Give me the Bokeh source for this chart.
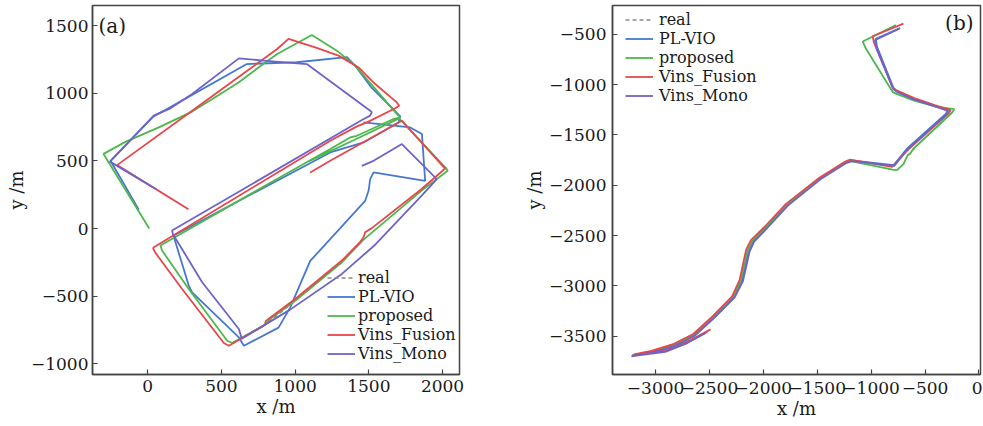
from bokeh.plotting import figure
from bokeh.models import FixedTicker, Legend, LegendItem, Label, Range1d
from bokeh.layouts import row
from bokeh.embed import file_html
from bokeh.resources import INLINE

# ---------------- data ----------------
series_names = ["real", "PL-VIO", "proposed", "Vins_Fusion", "Vins_Mono"]
series_colors = ["#8c8c8c", "#4678d2", "#4cb84c", "#e8464b", "#6e64c8"]

# panel (a)
a_real_x = [573, 796, 1000, 1317]
a_real_y = [-847, -712, -535, -250]
a_plvio_x = [-61, -253, 39, 118, 672, 1011, 1351, 1407, 1520, 1690, 1713, 1701, 1464, 1238, 176, 182, 278, 301,
             618, 652, 887, 966, 1102, 1475, 1498, 1509, 1532, 1882, 1860, 1781, 1464]
a_plvio_y = [140, 501, 830, 876, 1217, 1230, 1268, 1205, 1040, 855, 830, 785, 637, 563, -52, -80, -422, -472,
             -805, -867, -733, -585, -240, 205, 279, 365, 415, 353, 699, 748, 785]
a_prop_x = [10, -300, -152, 75, 301, 482, 618, 753, 878, 1113, 1283, 1407, 1554, 1690, 1713, 1667, 1419, 1373,
            1238, 753, 86, 97, 278, 539, 573, 796, 830, 1000, 1317, 1464, 1860, 2035, 2025, 1705, 1400, 1091]
a_prop_y = [0, 552, 641, 748, 865, 988, 1082, 1193, 1291, 1432, 1316, 1205, 1020, 847, 822, 810, 686, 674,
            588, 290, -126, -163, -447, -830, -847, -712, -670, -535, -250, -82, 282, 427, 445, 815, 655, 497]
a_fus_x = [276, -208, 301, 878, 955, 1136, 1294, 1430, 1543, 1690, 1706, 1679, 1487, 1419, 1238, 41, 36, 52,
           233, 516, 550, 780, 796, 800, 830, 1000, 1317, 1440, 1464, 1475, 1520, 1860, 2018, 2005, 1724, 1238, 1102]
a_fus_y = [143, 469, 872, 1328, 1403, 1340, 1279, 1192, 1069, 933, 909, 890, 785, 756, 649, -138, -146, -180,
           -447, -847, -867, -722, -709, -685, -660, -521, -237, -100, -64, -27, 3, 294, 444, 458, 798, 501, 415]
a_mono_x = [57, -256, 40, 154, 301, 618, 785, 1079, 1509, 1520, 1509, 1453, 165, 170, 369, 618, 638, 966,
            1317, 1543, 1860, 1961, 1724, 1532, 1452]
a_mono_y = [291, 495, 835, 889, 995, 1259, 1242, 1217, 872, 859, 835, 803, -15, -40, -397, -743, -815, -600,
            -336, -120, 245, 365, 625, 501, 464]

a_xticks = [0, 500, 1000, 1500, 2000]
a_xtick_labels = ["0", "500", "1000", "1500", "2000"]
a_yticks = [-1000, -500, 0, 500, 1000, 1500]
a_ytick_labels = ["\u22121000", "\u2212500", "0", "500", "1000", "1500"]

# panel (b)
b_real_x = [-655, -600]
b_real_y = [-1700, -1640]
b_plvio_x = [-730, -957, -945, -790, -762, -593, -410, -290, -305, -668, -790, -1185, -1235, -1473, -1777, -1974,
             -2090, -2135, -2198, -2275, -2460, -2642, -2824, -3036, -3219, -3150, -2900, -2700, -2520]
b_plvio_y = [-440, -545, -625, -1040, -1065, -1146, -1212, -1255, -1290, -1638, -1800, -1753, -1772, -1933, -2196,
             -2425, -2556, -2654, -2949, -3113, -3310, -3490, -3588, -3654, -3690, -3680, -3645, -3560, -3458]
b_prop_x = [-770, -1078, -1050, -800, -770, -600, -400, -228, -250, -610, -640, -660, -700, -760, -800, -1190,
            -1240, -1475, -1780, -1980, -2100, -2148, -2208, -2282, -2462, -2645, -2826, -3030, -3210]
b_prop_y = [-410, -572, -640, -1075, -1090, -1160, -1220, -1245, -1280, -1640, -1690, -1700, -1790, -1850, -1845,
            -1760, -1775, -1935, -2195, -2420, -2550, -2650, -2945, -3110, -3305, -3485, -3585, -3650, -3685]
b_fus_x = [-700, -985, -975, -800, -770, -600, -410, -262, -280, -650, -805, -1195, -1240, -1480, -1790, -1990,
           -2115, -2160, -2220, -2290, -2470, -2650, -2830, -3040, -3200, -3130, -2880, -2680, -2490]
b_fus_y = [-395, -520, -580, -1030, -1055, -1135, -1205, -1255, -1285, -1640, -1818, -1745, -1765, -1925, -2185,
           -2415, -2545, -2640, -2940, -3105, -3300, -3478, -3575, -3645, -3680, -3670, -3630, -3540, -3432]
b_mono_x = [-740, -965, -950, -795, -765, -600, -415, -285, -300, -665, -785, -1180, -1230, -1470, -1770, -1968,
            -2085, -2128, -2190, -2270, -2455, -2640, -2820, -3030, -3225, -3160, -2910, -2710, -2540]
b_mono_y = [-445, -560, -640, -1045, -1070, -1150, -1215, -1262, -1295, -1645, -1808, -1760, -1780, -1940, -2200,
            -2430, -2560, -2660, -2955, -3120, -3318, -3498, -3596, -3662, -3700, -3690, -3655, -3570, -3470]

b_xticks = [-3000, -2500, -2000, -1500, -1000, -500, 0]
b_xtick_labels = ["\u22123000", "\u22122500", "\u22122000", "\u22121500", "\u22121000", "\u2212500", "0"]
b_yticks = [-3500, -3000, -2500, -2000, -1500, -1000, -500]
b_ytick_labels = ["\u22123500", "\u22123000", "\u22122500", "\u22122000", "\u22121500", "\u22121000", "\u2212500"]

FONT = "DejaVu Serif"
TXT = "#1a1a1a"
FRAME = "#444444"


def make_panel(page_x, width, height, bl, br, bt, bb, xr, yr, series, xt, xtl, yt, ytl,
               tag, tag_px, tag_align, legend_rows_h, legend_loc, legend_standoff,
               xstand, ystand):
    p = figure(width=width, height=height, output_backend="svg", toolbar_location=None,
               x_range=Range1d(*xr), y_range=Range1d(*yr),
               min_border_left=bl, min_border_right=br, min_border_top=bt, min_border_bottom=bb,
               x_axis_label="x /m", y_axis_label="y /m")
    p.xgrid.visible = False
    p.ygrid.visible = False
    p.background_fill_color = "white"
    p.border_fill_color = "white"
    p.outline_line_color = FRAME
    p.outline_line_width = 1.5
    p.outline_line_alpha = 1.0

    for ax, ticks, labels, stand in ((p.xaxis[0], xt, xtl, xstand), (p.yaxis[0], yt, ytl, ystand)):
        ax.ticker = FixedTicker(ticks=ticks)
        ax.major_label_overrides = {t: l for t, l in zip(ticks, labels)}
        ax.major_tick_in = 5
        ax.major_tick_out = 0
        ax.minor_tick_line_color = None
        ax.axis_line_color = FRAME
        ax.axis_line_width = 1.5
        ax.major_tick_line_color = FRAME
        ax.major_tick_line_width = 1.2
        ax.major_label_text_font = FONT
        ax.major_label_text_font_size = "17px"
        ax.major_label_text_color = TXT
        ax.major_label_standoff = stand
        ax.axis_label_text_font = FONT
        ax.axis_label_text_font_size = "18px"
        ax.axis_label_text_font_style = "normal"
        ax.axis_label_text_color = TXT
        ax.axis_label_standoff = 1
    p.yaxis[0].major_label_orientation = "horizontal"

    items = []
    for name, color, (xs, ys) in zip(series_names, series_colors, series):
        if name == "real":
            r = p.line(xs, ys, line_color=color, line_width=1.5, line_dash="4 3")
        else:
            r = p.line(xs, ys, line_color=color, line_width=1.8)
        items.append(LegendItem(label=name, renderers=[r]))

    leg = Legend(items=items, location=legend_loc,
                 label_text_font=FONT, label_text_font_size="16px", label_text_color=TXT,
                 glyph_width=28, glyph_height=legend_rows_h, label_height=legend_rows_h,
                 spacing=0, padding=2, margin=0, label_standoff=legend_standoff,
                 border_line_alpha=0, background_fill_alpha=0)
    p.add_layout(leg)

    # panel tag placed from page pixel position
    fl = page_x + bl
    ft = bt
    fw = width - bl - br
    fh = height - bt - bb
    tx = xr[0] + (tag_px[0] - fl) / fw * (xr[1] - xr[0])
    ty = yr[1] - (tag_px[1] - ft) / fh * (yr[1] - yr[0])
    p.add_layout(Label(x=tx, y=ty, text=tag, text_font=FONT, text_font_size="20px",
                       text_color=TXT, text_align=tag_align, text_baseline="middle"))
    return p


series_a = [(a_real_x, a_real_y), (a_plvio_x, a_plvio_y), (a_prop_x, a_prop_y),
            (a_fus_x, a_fus_y), (a_mono_x, a_mono_y)]
series_b = [(b_real_x, b_real_y), (b_plvio_x, b_plvio_y), (b_prop_x, b_prop_y),
            (b_fus_x, b_fus_y), (b_mono_x, b_mono_y)]

# panel a: page x 0..470, frame 92..459 x 5..374
pa = make_panel(page_x=0, width=470, height=422, bl=92, br=11, bt=5, bb=48,
                xr=(-375, 2115), yr=(-1080, 1650), series=series_a,
                xt=a_xticks, xtl=a_xtick_labels, yt=a_yticks, ytl=a_ytick_labels,
                tag="(a)", tag_px=(98, 25), tag_align="left",
                legend_rows_h=17, legend_loc=(233, 9), legend_standoff=3,
                xstand=5, ystand=4)

# panel b: page x 470..982, frame 612..980 x 5..378
pb = make_panel(page_x=470, width=512, height=422, bl=142, br=2, bt=5, bb=44,
                xr=(-3400, 15), yr=(-3880, -215), series=series_b,
                xt=b_xticks, xtl=b_xtick_labels, yt=b_yticks, ytl=b_ytick_labels,
                tag="(b)", tag_px=(973, 23), tag_align="right",
                legend_rows_h=19, legend_loc=(11, 267), legend_standoff=6,
                xstand=7, ystand=6)

layout = row(pa, pb)
open("out.html", "w").write(file_html(layout, INLINE))
